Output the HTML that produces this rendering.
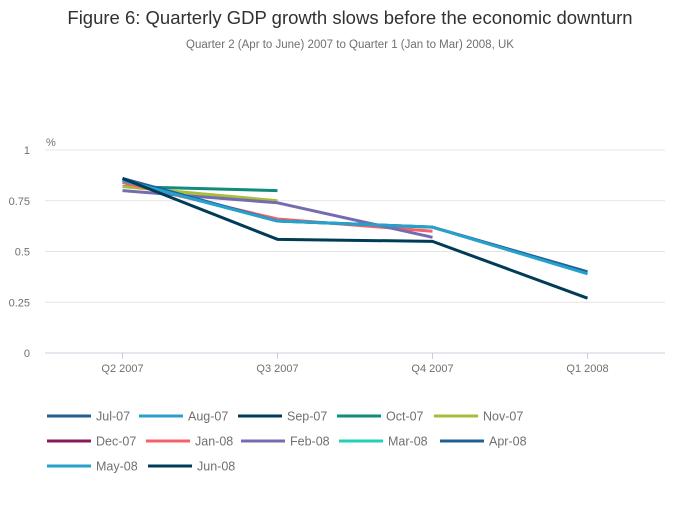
<!DOCTYPE html>
<html><head><meta charset="utf-8"><style>
body{margin:0;background:#fff;font-family:"Liberation Sans",sans-serif;}
svg text{font-family:"Liberation Sans",sans-serif;}
</style></head><body>
<svg id="c" width="700" height="502" viewBox="0 0 700 502">
<text x="350" y="24" text-anchor="middle" font-size="18.5" fill="#323132">Figure 6: Quarterly GDP growth slows before the economic downturn</text>
<text x="350" y="48" text-anchor="middle" font-size="11.5" fill="#707070">Quarter 2 (Apr to June) 2007 to Quarter 1 (Jan to Mar) 2008, UK</text>
<text x="46" y="146" font-size="11" fill="#707070">%</text>
<g id="grid"></g><g id="lines"></g><g id="legend"></g>
</svg>
<script>
const categories=["Q2 2007","Q3 2007","Q4 2007","Q1 2008"];
const yTicks=[0,0.25,0.5,0.75,1];
const yTickLabels=["0","0.25","0.5","0.75","1"];
const seriesNames=["Jul-07","Aug-07","Sep-07","Oct-07","Nov-07","Dec-07","Jan-08","Feb-08","Mar-08","Apr-08","May-08","Jun-08"];
const seriesColors=["#206095","#27a0cc","#003c57","#118c7b","#a8bd3a","#871a5b","#f66068","#746cb1","#22d0b6","#206095","#27a0cc","#003c57"];
const jul07=[0.8,null,null,null];
const aug07=[0.8,null,null,null];
const sep07=[0.8,null,null,null];
const oct07=[0.82,0.80,null,null];
const nov07=[0.82,0.75,null,null];
const dec07=[0.82,null,null,null];
const jan08=[0.84,0.66,0.60,null];
const feb08=[0.80,0.74,0.57,null];
const mar08=[0.85,0.65,0.62,null];
const apr08=[0.86,0.65,0.62,0.40];
const may08=[0.85,0.65,0.62,0.39];
const jun08=[0.86,0.56,0.55,0.27];
const seriesValues=[jul07,aug07,sep07,oct07,nov07,dec07,jan08,feb08,mar08,apr08,may08,jun08];

const NS="http://www.w3.org/2000/svg";
const x0=45,x1=665,yTop=150,yBot=353;
function xScale(i){return x0+(x1-x0)*(i+0.5)/categories.length;}
function yScale(v){return yBot-(v/1)*(yBot-yTop);}
function mk(tag,attrs,parent){const e=document.createElementNS(NS,tag);for(const k in attrs)e.setAttribute(k,attrs[k]);parent.appendChild(e);return e;}
const grid=document.getElementById('grid');
yTicks.forEach((t,i)=>{
  const ln=mk('line',{x1:x0,x2:x1,y1:yScale(t),y2:yScale(t),stroke:t===0?'#c8d0dc':'#e4e4e4','stroke-width':1},grid);
  
  
  const tx=mk('text',{x:30,y:yScale(t)+4,'text-anchor':'end','font-size':'11',fill:'#707070'},grid);
  tx.textContent=yTickLabels[i];
  
  
});
categories.forEach((c,i)=>{
  const tk=mk('line',{x1:xScale(i),x2:xScale(i),y1:yBot,y2:yBot+6,stroke:'#c8d0dc'},grid);
  
  
  const tx=mk('text',{x:xScale(i),y:yBot+19,'text-anchor':'middle','font-size':'11',fill:'#707070'},grid);
  tx.textContent=c;
  
  
});
const lines=document.getElementById('lines');
seriesValues.forEach((vals,s)=>{
  const pts=[];vals.forEach((v,i)=>{if(v!==null)pts.push(xScale(i)+','+yScale(v));});
  if(pts.length<2)return;
  const pl=mk('polyline',{points:pts.join(' '),fill:'none',stroke:seriesColors[s],'stroke-width':3,'stroke-linejoin':'round'},lines);
  
  
});
const legX=[47,139,238,337,434,47,146,241,339,440,47,148];
const legY=[416,416,416,416,416,441,441,441,441,441,466,466];
const leg=document.getElementById('legend');
seriesNames.forEach((n,i)=>{
  const g=mk('g',{},leg);
  
  
  mk('line',{x1:legX[i],x2:legX[i]+44,y1:legY[i],y2:legY[i],stroke:seriesColors[i],'stroke-width':3},g);
  const t=mk('text',{x:legX[i]+49,y:legY[i]+4.5,'font-size':'12.5',fill:'#707070'},g);
  t.textContent=n;
});
</script>
</body></html>
